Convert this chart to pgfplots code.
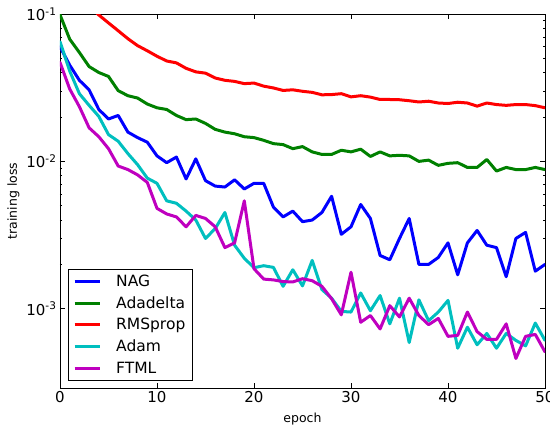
\documentclass[border=0pt]{standalone}
\usepackage{fontspec}
\setmainfont{DejaVu Sans}
\usepackage{pgfplots}
\usepackage{pgfplotstable}
\pgfplotsset{compat=1.18}
\definecolor{mpb}{rgb}{0,0,1}
\definecolor{mpg}{rgb}{0,0.5,0}
\definecolor{mpr}{rgb}{1,0,0}
\definecolor{mpc}{rgb}{0,0.75,0.75}
\definecolor{mpm}{rgb}{0.75,0,0.75}
\pgfplotstableread{
e v
0 0.060
1 0.045
2 0.0355
3 0.0306
4 0.0225
5 0.0194
6 0.0205
7 0.0158
8 0.0145
9 0.0135
10 0.0109
11 0.0098
12 0.0107
13 0.0076
14 0.0104
15 0.0074
16 0.0068
17 0.0067
18 0.0075
19 0.0065
20 0.0071
21 0.0071
22 0.0049
23 0.0042
24 0.0046
25 0.0039
26 0.0040
27 0.0045
28 0.0058
29 0.0032
30 0.0036
31 0.0051
32 0.0041
33 0.0023
34 0.00215
35 0.0030
36 0.0041
37 0.0020
38 0.0020
39 0.00223
40 0.0028
41 0.0017
42 0.0028
43 0.0034
44 0.0027
45 0.0026
46 0.00165
47 0.0030
48 0.0033
49 0.0018
50 0.0020
}\nag
\pgfplotstableread{
e v
0 0.099
1 0.0675
2 0.0548
3 0.044
4 0.0401
5 0.0377
6 0.0302
7 0.0279
8 0.0269
9 0.0245
10 0.0231
11 0.0225
12 0.0205
13 0.0192
14 0.0194
15 0.0181
16 0.0165
17 0.0158
18 0.0154
19 0.0147
20 0.0145
21 0.0139
22 0.0132
23 0.0130
24 0.0122
25 0.0126
26 0.0116
27 0.01115
28 0.01115
29 0.0119
30 0.0116
31 0.0121
32 0.0108
33 0.0116
34 0.0109
35 0.0110
36 0.0109
37 0.0100
38 0.0102
39 0.0094
40 0.0097
41 0.0098
42 0.0091
43 0.0091
44 0.0103
45 0.0086
46 0.0091
47 0.0088
48 0.0088
49 0.0091
50 0.0088
}\adadelta
\pgfplotstableread{
e v
3 0.115
4 0.0985
5 0.087
6 0.077
7 0.068
8 0.061
9 0.0563
10 0.0517
11 0.048
12 0.0466
13 0.0428
14 0.0405
15 0.0397
16 0.0368
17 0.0355
18 0.0349
19 0.0337
20 0.0340
21 0.0324
22 0.0315
23 0.0303
24 0.0306
25 0.0299
26 0.0294
27 0.0283
28 0.0284
29 0.0288
30 0.0274
31 0.0279
32 0.0273
33 0.0263
34 0.0263
35 0.0262
36 0.0258
37 0.0253
38 0.0256
39 0.0249
40 0.0247
41 0.0252
42 0.0249
43 0.0237
44 0.0249
45 0.0243
46 0.0240
47 0.0243
48 0.0243
49 0.0239
50 0.0231
}\rmsprop
\pgfplotstableread{
e v
0 0.065
1 0.041
2 0.0288
3 0.024
4 0.0202
5 0.0152
6 0.0137
7 0.0113
8 0.0095
9 0.0077
10 0.0071
11 0.0054
12 0.0052
13 0.0046
14 0.0040
15 0.0030
16 0.0035
17 0.0045
18 0.0027
19 0.0022
20 0.0019
21 0.00196
22 0.00191
23 0.00142
24 0.00184
25 0.00143
26 0.00213
27 0.00135
28 0.00118
29 0.00096
30 0.00095
31 0.00128
32 0.00097
33 0.00123
34 0.00079
35 0.00118
36 0.00059
37 0.00115
38 0.00083
39 0.00095
40 0.00114
41 0.00054
42 0.00075
43 0.00057
44 0.00068
45 0.00054
46 0.00068
47 0.00061
48 0.00056
49 0.00080
50 0.00061
}\adam
\pgfplotstableread{
e v
0 0.047
1 0.031
2 0.0235
3 0.0169
4 0.0147
5 0.0122
6 0.0093
7 0.0088
8 0.0081
9 0.0072
10 0.0048
11 0.0044
12 0.0042
13 0.0036
14 0.0043
15 0.0041
16 0.0036
17 0.0026
18 0.0028
19 0.0054
20 0.00187
21 0.00159
22 0.00157
23 0.00153
24 0.00152
25 0.00160
26 0.00155
27 0.00142
28 0.00117
29 0.00091
30 0.00177
31 0.00081
32 0.00090
33 0.00073
34 0.00105
35 0.00088
36 0.00118
37 0.00090
38 0.00078
39 0.00086
40 0.00065
41 0.00066
42 0.00095
43 0.00070
44 0.00062
45 0.00062
46 0.00079
47 0.00046
48 0.00065
49 0.00067
50 0.00051
}\ftml
\begin{document}
\begin{tikzpicture}
\begin{axis}[
  name=ax,
  scale only axis,
  width=485pt, height=374pt,
  ymode=log,
  xmin=0, xmax=50, ymin=2.9e-4, ymax=0.1,
  xtick={0,10,20,30,40,50},
  ytick={1e-3,1e-2,1e-1},
  yticklabels={10\textsuperscript{-3},10\textsuperscript{-2},10\textsuperscript{-1}},
  /pgf/number format/assume math mode=true,
  tick label style={font=\fontsize{15}{18}\selectfont},
  label style={font=\fontsize{12.5}{15}\selectfont},
  xlabel={epoch}, ylabel={training loss},
  xlabel style={yshift=-3pt},
  major tick length=5pt, minor tick length=2.5pt,
  tick style={black, line width=0.6pt},
  axis line style={black, line width=0.8pt},
  every axis plot/.append style={line width=3pt, line join=round, line cap=round},
  legend cell align=left,
  legend style={at={(0.0160,0.0190)}, anchor=south west, font=\fontsize{15.5}{18.5}\selectfont,
    draw=black, line width=0.8pt, inner xsep=5pt, inner ysep=4pt, row sep=4.5pt,
    column sep=13pt},
  legend image code/.code={\draw[#1, line width=3pt, line cap=butt] (0pt,0pt) -- (25pt,0pt);},
]
\addplot[mpb] table[x=e,y=v] {\nag};
\addlegendentry{NAG}
\addplot[mpg] table[x=e,y=v] {\adadelta};
\addlegendentry{Adadelta}
\addplot[mpr] table[x=e,y=v] {\rmsprop};
\addlegendentry{RMSprop}
\addplot[mpc] table[x=e,y=v] {\adam};
\addlegendentry{Adam}
\addplot[mpm] table[x=e,y=v] {\ftml};
\addlegendentry{FTML}
\end{axis}
\pgfresetboundingbox
\path ([shift={(-60pt,-41pt)}]ax.south west) rectangle ([shift={(5pt,14pt)}]ax.north east);
\end{tikzpicture}
\end{document}
